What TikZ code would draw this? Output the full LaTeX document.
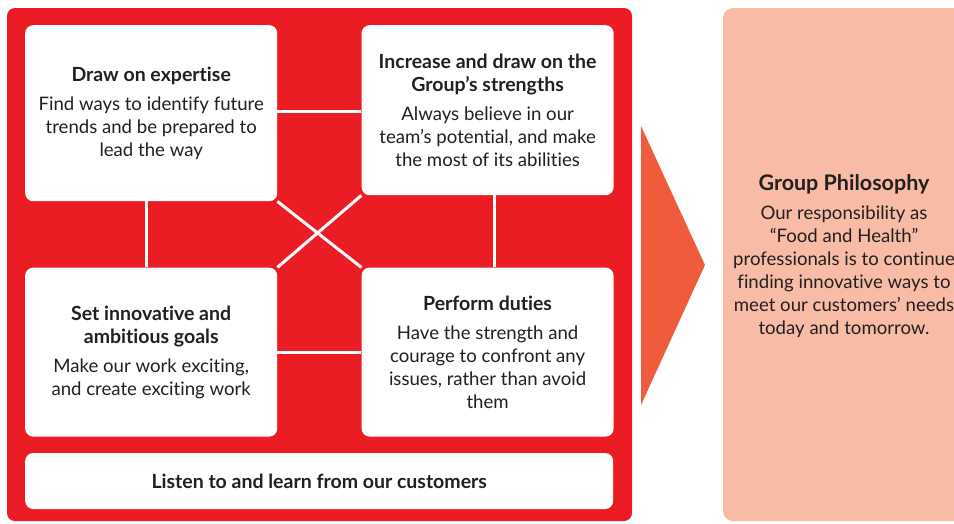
\documentclass[tikz,border=0pt]{standalone}
\usepackage{fontspec}
\setmainfont{Lato}[Ligatures=NoCommon]
\usetikzlibrary{positioning}
\definecolor{vred}{HTML}{EC1C24}
\definecolor{varrow}{HTML}{EF5B3C}
\definecolor{vpeach}{HTML}{F8BBA6}
\definecolor{vink}{HTML}{231F20}
\newcommand{\vhead}[1]{{\fontsize{19.5}{23}\selectfont\textbf{#1}}}

\tikzset{
  valuebox/.style={fill=white, rounded corners=8pt, inner sep=0pt,
    minimum width=252pt, align=center, text=vink,
    font=\fontsize{18.6}{23}\selectfont},
  link/.style={draw=white, line width=3pt},
}

\begin{document}
\begin{tikzpicture}[x=1pt, y=-1pt]
  \useasboundingbox (0,0) rectangle (954,523);
  % backgrounds
  \fill [vred, rounded corners=8pt] (7,8) rectangle (632,521);
  \fill [vpeach, rounded corners=10pt] (723,8) rectangle (966,521);
  \fill [varrow] (641,126) -- (705,265) -- (641,405) -- cycle;

  % the four values
  \node [valuebox, minimum height=176pt, anchor=north west] (tl) at (25,25)
    {\vhead{Draw on expertise}\\[6pt]
     Find ways to identify future\\ trends and be prepared to\\ lead the way};
  \node [valuebox, minimum height=170pt, right=84pt of tl.north east, anchor=north west] (tr)
    {\vhead{Increase and draw on the}\\ \vhead{Group’s strengths}\\[6pt]
     Always believe in our\\ team’s potential, and make\\ the most of its abilities};
  \node [valuebox, minimum height=169pt, below=66pt of tl.south west, anchor=north west] (bl)
    {\vhead{Set innovative and}\\ \vhead{ambitious goals}\\[6pt]
     Make our work exciting,\\ and create exciting work};
  \node [valuebox, minimum height=169pt, below=72pt of tr.south west, anchor=north west] (br)
    {\vhead{Perform duties}\\[6pt]
     Have the strength and\\ courage to confront any\\ issues, rather than avoid\\ them};
  \node [valuebox, minimum width=588pt, minimum height=56pt, below=16pt of bl.south west, anchor=north west] (listen)
    {\vhead{Listen to and learn from our customers}};

  % white links between the boxes
  \draw [link] ([yshift=2pt]tl.east) -- ([yshift=2pt]tl.east -| tr.west);
  \draw [link] (bl.east) -- (bl.east -| br.west);
  \draw [link] ([xshift=-5pt]tl.south) -- ([xshift=-5pt]bl.north);
  \draw [link] ([xshift=7pt]tr.south) -- ([xshift=7pt]br.north);
  \draw [link] (tl.south east) -- (br.north west);
  \draw [link] (tr.south west) -- (bl.north east);

  % philosophy
  \node [align=center, text=vink, font=\fontsize{18.6}{23}\selectfont] (phil) at (844,256)
    {{\fontsize{21.5}{23}\selectfont\textbf{Group Philosophy}}\\[6pt]
     Our responsibility as\\ “Food and Health”\\ professionals is to continue\\
     finding innovative ways to\\ meet our customers’ needs\\ today and tomorrow.};
\end{tikzpicture}
\end{document}
